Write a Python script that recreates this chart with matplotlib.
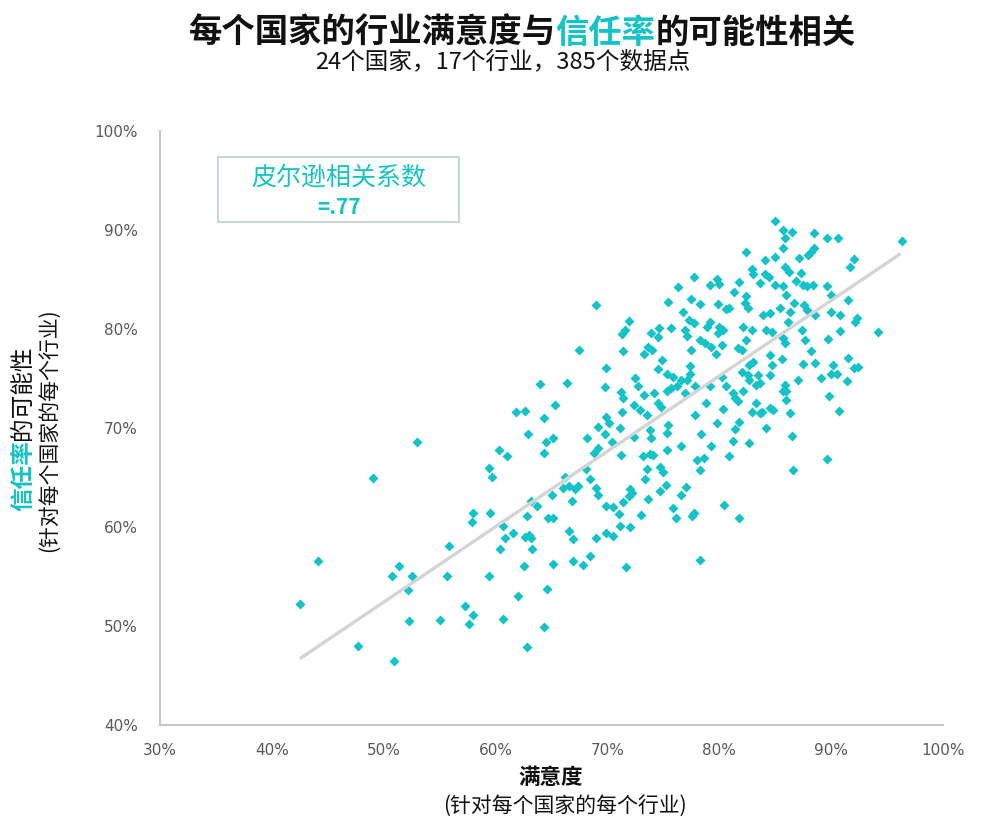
import matplotlib
matplotlib.use('Agg')
import matplotlib.pyplot as plt
import numpy as np

plt.rcParams['font.family'] = ['Noto Sans CJK SC', 'DejaVu Sans']

TEAL = '#14C3C7'

satisfaction = [
    53.0, 49.0, 44.1, 51.4, 50.7, 52.5, 52.2, 42.5, 52.3, 47.7, 50.9,
    64.0, 65.3, 61.8, 62.6, 64.3, 62.9, 64.5, 65.1, 64.3, 60.3, 61.0, 59.4, 59.7, 65.0, 63.2,
    63.7, 62.8, 64.7, 65.1, 58.0, 57.9, 59.5, 60.7, 61.6, 60.8, 62.6, 63.0, 63.2, 63.3, 60.4,
    55.8, 65.1, 62.5, 55.7, 59.4, 64.6, 62.0, 57.3, 58.0, 57.6, 55.0, 60.7, 64.3, 62.8,
    69.0, 75.4, 76.3, 71.9, 71.6, 71.3, 73.9, 74.6, 75.7, 74.5, 67.5, 71.4, 73.6, 74.0, 73.3,
    74.9, 74.5, 69.9, 66.4, 72.5, 72.7, 75.3, 75.9, 69.8, 71.2, 71.4, 73.3, 74.2, 75.3, 75.7,
    76.2, 74.5, 74.8, 72.4, 72.9, 71.3, 73.5, 69.9,
    70.1, 69.2, 71.1, 69.8, 68.2, 70.4, 72.4, 73.8, 73.9, 75.3, 75.4, 69.2, 68.8, 71.2, 73.2,
    73.8, 74.1, 75.3, 73.5, 74.7, 75.0, 68.1, 66.2, 68.4, 73.4, 66.6, 67.1, 67.4, 66.0, 69.0,
    69.2, 72.0, 72.2, 71.9, 75.2, 74.7, 66.8, 73.6, 71.4, 69.9, 70.5, 71.0, 73.0, 75.9, 76.1,
    71.1, 72.0, 69.9, 70.5, 66.6, 66.9, 69.0, 68.4, 66.9, 67.8, 71.7,
    82.4, 84.1, 85.0, 82.9, 83.0, 84.1, 84.4, 77.7, 79.2, 79.8, 80.0, 81.8, 83.6, 81.3, 85.0,
    77.5, 78.3, 79.9, 80.6, 80.9, 82.4, 82.3, 82.6, 83.9, 84.5, 76.8, 77.3, 77.7, 79.2, 78.9,
    80.0, 80.3, 79.9, 82.1, 82.9, 84.2, 84.7, 76.9, 77.1, 78.3, 78.7, 79.3, 80.2, 82.4, 77.5,
    79.7, 81.7, 82.0, 84.5, 83.0, 82.7, 84.7, 77.4,
    77.4, 77.1, 76.6, 77.8, 76.9, 79.2, 80.2, 80.6, 81.2, 81.4, 81.7, 82.0, 82.6, 82.7, 83.5,
    83.6, 83.3, 82.1, 84.5, 78.8, 83.3, 80.3, 82.9, 83.6, 83.8, 84.5, 84.8, 77.8, 79.8, 81.8,
    81.4, 84.2, 78.4, 81.2, 82.7, 76.6, 79.3, 80.9, 78.6, 78.0, 78.3,
    77.0, 76.6, 80.4, 77.7, 77.6, 81.8, 78.3,
    96.3, 88.5, 89.6, 90.6, 86.5, 85.7, 85.9, 85.7, 87.1, 87.9, 88.2, 88.5, 92.0, 91.7, 85.9,
    86.2, 87.3, 86.9, 87.5, 87.8, 88.4, 89.6, 90.0, 91.5, 85.7, 86.0, 86.7, 87.6, 87.8, 90.8,
    90.0, 92.3, 88.6, 85.4, 86.3,
    86.1, 92.1, 94.2, 87.4, 87.7, 89.7, 90.8, 85.7, 85.9, 88.2, 85.6, 91.5, 87.5, 88.6, 90.2,
    90.0, 90.5, 92.0, 92.4, 89.1, 87.0, 91.4, 85.9, 85.7, 86.0, 89.8, 86.0, 90.7, 86.3, 86.5,
    89.6, 86.6, 85.0,
]

trust = [
    68.6, 64.9, 56.6, 56.1, 55.1, 55.1, 53.6, 52.2, 50.5, 48.0, 46.5,
    74.4, 72.3, 71.6, 71.7, 71.0, 69.4, 68.6, 69.0, 67.5, 67.8, 67.2, 66.0, 65.1, 63.2, 62.6,
    62.1, 61.1, 60.9, 60.9, 61.4, 60.5, 61.4, 60.1, 59.4, 58.9, 59.0, 59.2, 58.9, 57.8, 57.8,
    58.1, 56.3, 56.1, 55.1, 55.1, 53.7, 53.0, 52.0, 51.1, 50.2, 50.6, 50.7, 49.9, 47.9,
    82.4, 82.7, 84.2, 80.8, 79.9, 79.5, 79.6, 80.1, 80.1, 79.2, 77.9, 77.8, 78.2, 77.9, 77.5,
    76.9, 76.0, 76.1, 74.5, 75.0, 74.2, 75.5, 75.2, 74.1, 73.6, 73.0, 73.3, 73.5, 73.7, 74.0,
    74.2, 72.5, 72.1, 72.3, 71.8, 71.6, 71.3, 71.1,
    70.5, 70.1, 70.0, 69.4, 69.0, 68.6, 69.1, 69.8, 69.0, 69.5, 70.3, 68.0, 67.5, 67.3, 67.2,
    67.4, 67.3, 67.8, 65.9, 66.1, 65.6, 65.9, 65.1, 64.8, 64.8, 64.1, 63.8, 64.1, 63.9, 63.9,
    63.2, 63.8, 63.4, 63.1, 64.2, 63.6, 62.6, 62.8, 62.5, 62.1, 62.0, 61.3, 61.2, 61.9, 60.9,
    60.1, 60.0, 59.4, 59.1, 59.6, 58.8, 58.9, 57.1, 56.6, 56.2, 56.0,
    87.8, 87.0, 87.3, 86.1, 85.6, 85.6, 85.3, 85.3, 84.4, 85.0, 84.5, 84.7, 84.6, 83.7, 84.4,
    83.0, 82.5, 82.5, 82.0, 82.1, 83.3, 82.6, 82.1, 81.4, 81.6, 81.7, 80.9, 80.6, 80.7, 80.2,
    80.2, 79.9, 79.6, 80.2, 79.9, 79.9, 79.7, 79.9, 79.3, 78.9, 78.6, 78.2, 78.4, 78.9, 77.9,
    77.5, 78.1, 77.9, 77.4, 76.7, 76.4, 76.4, 76.3,
    75.5, 74.8, 74.8, 74.2, 73.5, 74.2, 75.2, 74.2, 73.5, 73.0, 72.7, 75.7, 75.4, 74.8, 75.4,
    74.5, 74.3, 73.7, 75.4, 72.5, 72.5, 71.9, 71.6, 71.5, 71.6, 72.0, 71.8, 71.3, 70.5, 70.6,
    69.9, 70.0, 69.4, 68.7, 68.5, 68.2, 68.2, 67.2, 67.0, 66.8, 65.8,
    64.0, 63.2, 62.2, 61.4, 61.1, 60.9, 56.7,
    88.9, 89.7, 89.2, 89.2, 89.8, 90.0, 89.2, 88.2, 87.2, 87.5, 87.8, 88.2, 87.1, 86.3, 86.3,
    85.8, 85.7, 84.8, 84.4, 84.3, 84.4, 84.3, 83.4, 82.9, 84.3, 83.4, 82.6, 82.4, 81.9, 81.4,
    81.7, 81.1, 81.4, 82.1, 81.7,
    80.7, 80.7, 79.7, 79.9, 78.9, 79.0, 79.8, 79.1, 78.6, 77.8, 77.0, 77.1, 76.5, 76.6, 76.4,
    75.5, 75.5, 76.1, 76.2, 75.1, 74.8, 74.7, 74.3, 73.7, 73.7, 73.2, 72.8, 71.7, 71.5, 69.2,
    66.9, 65.8, 90.9,
]

# trend line end points
trend_x = [42.5, 96.2]
trend_y = [46.7, 87.6]

x_ticks = [30, 40, 50, 60, 70, 80, 90, 100]
y_ticks = [40, 50, 60, 70, 80, 90, 100]

fig = plt.figure(figsize=(10, 8.3), dpi=100)
W, H = 1000, 830


def fx(px):
    return px / W


def fy(py):
    return 1 - py / H


ax = fig.add_axes([fx(160), fy(725), (943 - 160) / W, (725 - 131) / H])
ax.plot(satisfaction, trust, ls='none', marker='D', ms=5.3, color=TEAL,
        mec='none', zorder=3, clip_on=False)
ax.plot(trend_x, trend_y, color='#d4d4d4', lw=2.4, zorder=4,
        solid_capstyle='butt')

ax.set_xlim(30, 100)
ax.set_ylim(40, 100)
ax.set_xticks(x_ticks)
ax.set_xticklabels([f'{v}%' for v in x_ticks], family='DejaVu Sans')
ax.set_yticks(y_ticks)
ax.set_yticklabels([f'{v}%' for v in y_ticks], family='DejaVu Sans')
ax.tick_params(axis='x', length=0, labelsize=11, labelcolor='#595959', pad=13)
ax.tick_params(axis='y', length=0, labelsize=11, labelcolor='#595959', pad=16)
for s in ['top', 'right']:
    ax.spines[s].set_visible(False)
for s in ['left', 'bottom']:
    ax.spines[s].set_color('#bfbfbf')
    ax.spines[s].set_linewidth(1.3)

renderer = fig.canvas.get_renderer()


def colored_row(xc, yc, parts, size, rotation=0):
    texts = []
    lens = []
    for s, c, w in parts:
        t = fig.text(0, 0, s, color=c, fontsize=size, fontweight=w,
                     rotation=rotation, ha='left' if rotation == 0 else 'center',
                     va='center' if rotation == 0 else 'bottom')
        bb = t.get_window_extent(renderer)
        lens.append(bb.width if rotation == 0 else bb.height)
        texts.append(t)
    total = sum(lens)
    if rotation == 0:
        pos = xc - total / 2
        for t, l in zip(texts, lens):
            t.set_position((fx(pos), fy(yc)))
            pos += l
    else:
        pos = (H - yc) - total / 2
        for t, l in zip(texts, lens):
            t.set_position((fx(xc), pos / H))
            pos += l


colored_row(522, 33, [('每个国家的行业满意度与', '#111111', 'bold'),
                      ('信任率', TEAL, 'bold'),
                      ('的可能性相关', '#111111', 'bold')], 24)
fig.text(fx(503), fy(62), '24个国家，17个行业，385个数据点', ha='center', va='center',
         fontsize=17, color='#111111')

colored_row(23, 428, [('信任率', TEAL, 'bold'), ('的可能性', '#111111', 'normal')],
            17, rotation=90)
fig.text(fx(49), fy(430), '(针对每个国家的每个行业)', rotation=90, ha='center',
         va='center', fontsize=15, color='#111111')

fig.text(fx(551), fy(777), '满意度', ha='center', va='center', fontsize=15.5,
         fontweight='bold', color='#111111')
fig.text(fx(565), fy(806), '(针对每个国家的每个行业)', ha='center', va='center',
         fontsize=15, color='#111111')

box = matplotlib.patches.Rectangle((fx(218), fy(222)), (459 - 218) / W, (222 - 157) / H,
                                   transform=fig.transFigure, fill=False,
                                   edgecolor='#c9d6d8', lw=1.5)
fig.add_artist(box)
fig.text(fx(339), fy(178), '皮尔逊相关系数', ha='center', va='center', fontsize=18,
         color=TEAL)
fig.text(fx(339), fy(207), '=.77', ha='center', va='center', fontsize=15,
         fontweight='bold', color=TEAL)

fig.savefig('out.png', dpi=100)
